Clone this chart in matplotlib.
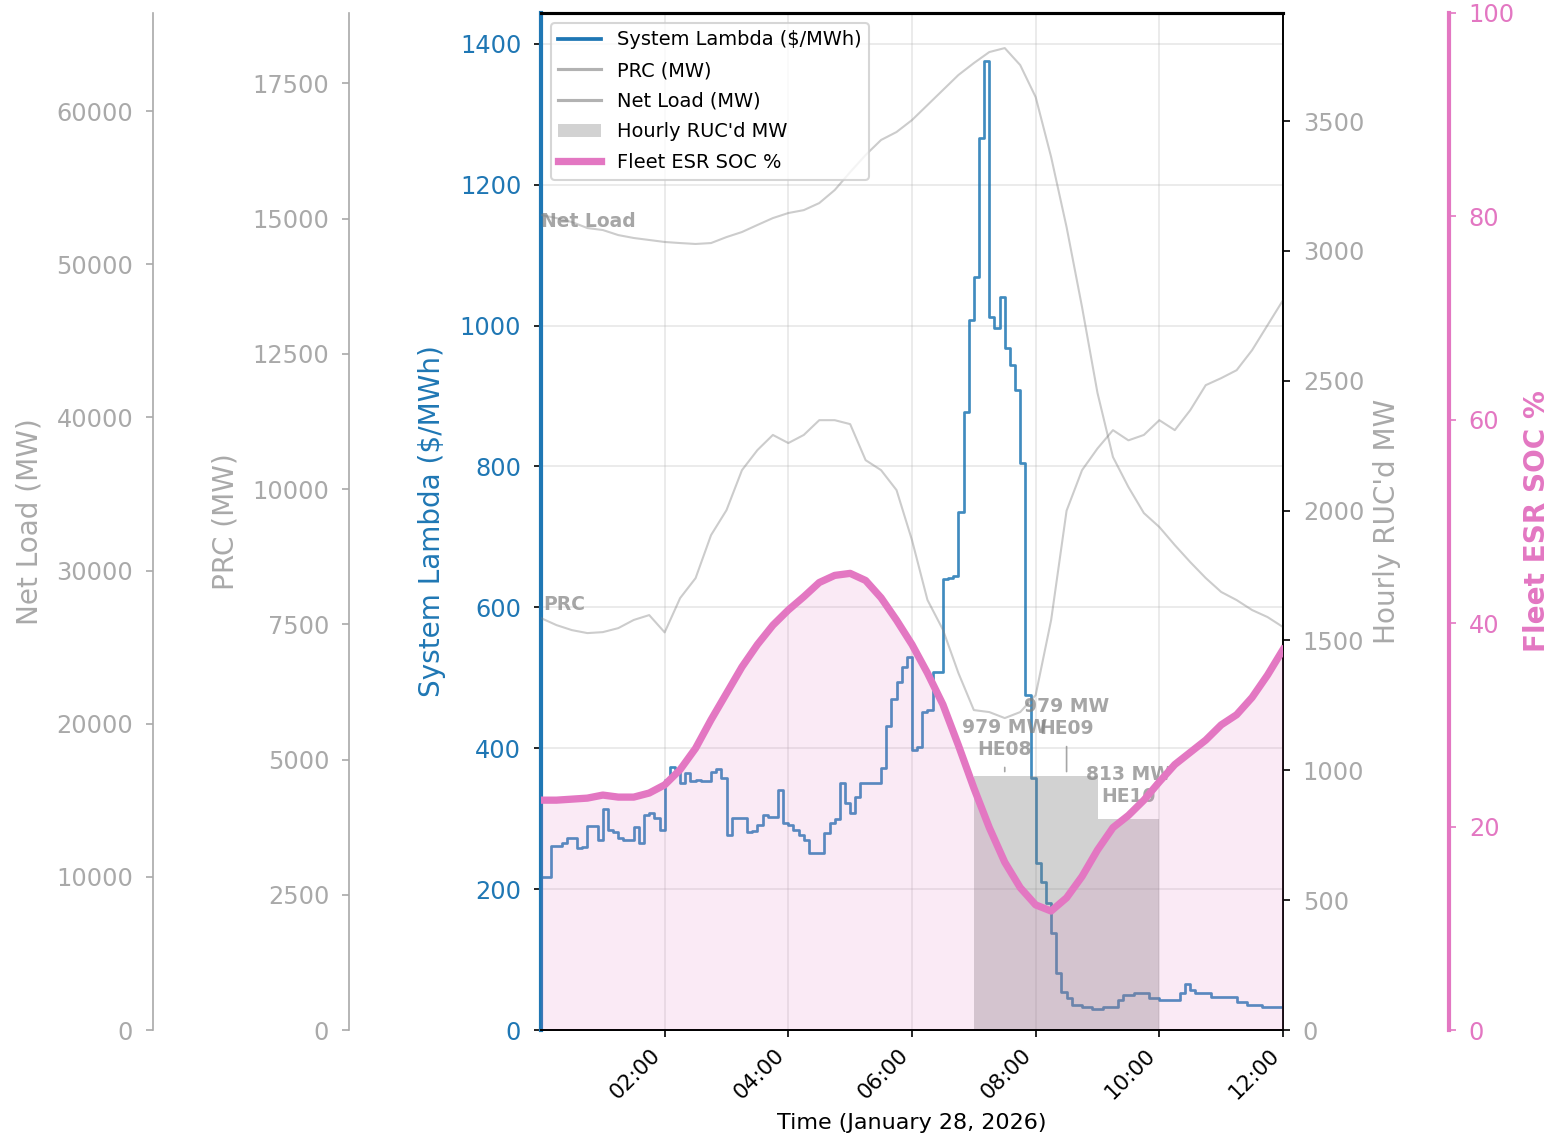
import numpy as np
import pandas as pd
import matplotlib
matplotlib.use('Agg')
import matplotlib.pyplot as plt
import matplotlib.dates as mdates
from matplotlib.lines import Line2D

# 5-minute system lambda ($/MWh), 00:00 -> 12:00
lam = [217, 217, 261, 261, 266, 273, 273, 258, 260, 290, 290, 270,
       314, 284, 281, 272, 270, 270, 288, 266, 305, 308, 301, 284,
       355, 373, 370, 351, 365, 354, 355, 354, 354, 366, 370, 358,
       277, 301, 301, 301, 281, 283, 291, 305, 302, 302, 341, 294,
       291, 284, 277, 270, 251, 251, 251, 280, 294, 300, 351, 322,
       308, 331, 351, 351, 351, 351, 372, 432, 470, 494, 515, 530,
       398, 402, 452, 454, 508, 508, 640, 642, 645, 735, 877, 1008,
       1069, 1266, 1375, 1012, 997, 1041, 968, 944, 909, 805, 476, 358,
       237, 210, 180, 138, 81, 54, 45, 35, 35, 33, 33, 30,
       30, 33, 33, 33, 43, 50, 50, 53, 53, 53, 45, 45,
       43, 43, 43, 43, 53, 65, 57, 53, 53, 53, 47, 47,
       47, 47, 47, 40, 40, 35, 35, 35, 33, 33, 33, 33,
       37]

# 15-minute series
prc = [7614, 7485, 7392, 7337, 7355, 7429, 7580, 7670, 7350, 7984, 8353, 9148,
       9610, 10349, 10720, 11000, 10850, 11000, 11273, 11273, 11200, 10534, 10349, 9980,
       9055, 7950, 7400, 6600, 5914, 5877, 5766, 5877, 6191, 7577, 9600, 10349,
       10750, 11089, 10900, 11000, 11273, 11089, 11458, 11920, 12050, 12197, 12567, 13029,
       13491]
net_load = [53210, 53010, 52750, 52360, 52230, 51900, 51710, 51580, 51450, 51380, 51320, 51380,
            51770, 52100, 52560, 53010, 53340, 53530, 53990, 54840, 56010, 57130, 58110, 58630,
            59410, 60390, 61370, 62350, 63130, 63850, 64110, 63000, 60910, 57000, 52420, 47200,
            41590, 37410, 35450, 33750, 32840, 31660, 30550, 29510, 28600, 28070, 27420, 26960,
            26310]
soc = [22.6, 22.6, 22.7, 22.8, 23.1, 22.9, 22.9, 23.3, 24.1, 25.6, 27.7, 30.5,
       33.1, 35.7, 37.9, 39.8, 41.3, 42.6, 44.0, 44.7, 44.9, 44.2, 42.5, 40.3,
       37.9, 35.1, 32.0, 28.0, 23.8, 19.9, 16.5, 14.0, 12.3, 11.7, 13.0, 15.1,
       17.7, 19.9, 21.1, 22.6, 24.4, 26.1, 27.3, 28.5, 30.0, 31.0, 32.7, 34.9,
       37.4]

# hourly RUC commitments (hour ending)
ruc_he = [8, 9, 10]
ruc_mw = [979, 979, 813]
ruc_offset = [8, 18, 6]   # label offsets in points

day = pd.Timestamp('2026-01-28')
t5 = pd.date_range(day, periods=len(lam), freq='5min')
t15 = pd.date_range(day, periods=len(soc), freq='15min')

GRAY = 'darkgray'
PINK = '#e377c2'
BLUE = '#1f77b4'
TICK_FS = 11.5
LABEL_FS = 13.4

fig = plt.figure(figsize=(1549 / 150, 1137 / 150), dpi=150)
ax = fig.add_axes([541 / 1549, 107 / 1137, 742 / 1549, 1017 / 1137])

# system lambda
ax.step(t5, lam, where='post', color=BLUE, lw=1.3, alpha=0.85)
ax.set_ylim(0, max(lam) * 1.05)
ax.set_ylabel('System Lambda ($/MWh)', color=BLUE, fontsize=LABEL_FS, labelpad=6.5)
ax.tick_params(axis='y', labelcolor=BLUE, labelsize=TICK_FS, pad=6)
ax.spines['left'].set_color(BLUE)
ax.spines['left'].set_linewidth(2)
ax.spines['top'].set_linewidth(1.5)
ax.grid(True, alpha=0.3)


def left_axis(offset):
    a = ax.twinx()
    a.spines['left'].set_position(('axes', offset))
    for s in ['top', 'right', 'bottom']:
        a.spines[s].set_visible(False)
    a.spines['left'].set_visible(True)
    a.spines['left'].set_color(GRAY)
    a.yaxis.set_label_position('left')
    a.yaxis.set_ticks_position('left')
    a.tick_params(axis='y', colors=GRAY, labelsize=TICK_FS, pad=6)
    return a


# PRC on an offset left axis
ax_prc = left_axis(-192 / 742)
ax_prc.plot(t15, prc, color='gray', alpha=0.4, lw=1)
ax_prc.set_ylim(0, 18800)
ax_prc.set_ylabel('PRC (MW)', color=GRAY, fontsize=LABEL_FS, labelpad=6)
ax_prc.annotate('PRC', (t15[0], prc[0]), xytext=(1, 2), textcoords='offset points',
                ha='left', va='bottom', fontsize=9, fontweight='bold',
                color='gray', alpha=0.7)

# net load on a second offset left axis
ax_nl = left_axis(-388 / 742)
ax_nl.plot(t15, net_load, color='gray', alpha=0.4, lw=1)
ax_nl.set_ylim(0, 66400)
ax_nl.set_ylabel('Net Load (MW)', color=GRAY, fontsize=LABEL_FS, labelpad=6)
ax_nl.annotate('Net Load', (t15[0], net_load[0]), xytext=(0, -3), textcoords='offset points',
               ha='left', va='center', fontsize=9, fontweight='bold',
               color='gray', alpha=0.7)

# hourly RUC blocks, drawn as one stepped area so adjacent hours don't leave a seam
ax_ruc = ax.twinx()
ax_ruc.spines['left'].set_visible(False)
ruc_edges = [day + pd.Timedelta(hours=h - 1) for h in ruc_he]
ruc_edges.append(day + pd.Timedelta(hours=ruc_he[-1]))
ax_ruc.fill_between(ruc_edges, ruc_mw + ruc_mw[-1:], 0, step='post',
                    color='gray', alpha=0.35, lw=0)
ax_ruc.set_ylim(0, max(ruc_mw) * 4)
ax_ruc.set_ylabel("Hourly RUC'd MW", color=GRAY, fontsize=LABEL_FS)
ax_ruc.tick_params(axis='y', labelcolor=GRAY, labelsize=TICK_FS, pad=6)
for h, mw, off in zip(ruc_he, ruc_mw, ruc_offset):
    mid = day + pd.Timedelta(hours=h - 0.5)
    ax_ruc.annotate(f'{mw:.0f} MW\nHE{h:02d}', (mid, mw), xytext=(0, off),
                    textcoords='offset points', ha='center', va='bottom',
                    fontsize=9, fontweight='bold', color='gray', alpha=0.7,
                    arrowprops=dict(arrowstyle='-', color='gray', lw=0.8, alpha=0.7))

# fleet ESR state of charge
ax_soc = ax.twinx()
ax_soc.spines['left'].set_visible(False)
ax_soc.spines['right'].set_position(('axes', 1 + 166 / 742))
ax_soc.spines['right'].set_color(PINK)
ax_soc.spines['right'].set_linewidth(2)
ax_soc.fill_between(t15, soc, 0, color=PINK, alpha=0.15, lw=0)
ax_soc.plot(t15, soc, color=PINK, lw=3.5)
ax_soc.set_ylim(0, 100)
ax_soc.set_ylabel('Fleet ESR SOC %', color=PINK, fontsize=LABEL_FS, fontweight='bold')
ax_soc.tick_params(axis='y', colors=PINK, labelsize=TICK_FS, pad=6)

# time axis
ax.set_xlim(t5[0], t5[-1])
ax.xaxis.set_major_locator(mdates.HourLocator(byhour=range(2, 13, 2)))
ax.xaxis.set_major_formatter(mdates.DateFormatter('%H:%M'))
for lab in ax.get_xticklabels():
    lab.set_rotation(45)
    lab.set_ha('right')
    lab.set_fontsize(10.3)
ax.set_xlabel('Time (January 28, 2026)', fontsize=10.7, labelpad=5)

handles = [
    Line2D([], [], color=BLUE, lw=1.8),
    Line2D([], [], color='gray', alpha=0.6, lw=1.5),
    Line2D([], [], color='gray', alpha=0.6, lw=1.5),
    plt.Rectangle((0, 0), 1, 1, color='gray', alpha=0.35, lw=0),
    Line2D([], [], color=PINK, lw=3.5),
]
labels = ['System Lambda ($/MWh)', 'PRC (MW)', 'Net Load (MW)',
          "Hourly RUC'd MW", 'Fleet ESR SOC %']
ax_soc.legend(handles, labels, loc='upper left', fontsize=9.3,
              handlelength=2.2, labelspacing=0.6)

fig.savefig('out.png', dpi=150)
